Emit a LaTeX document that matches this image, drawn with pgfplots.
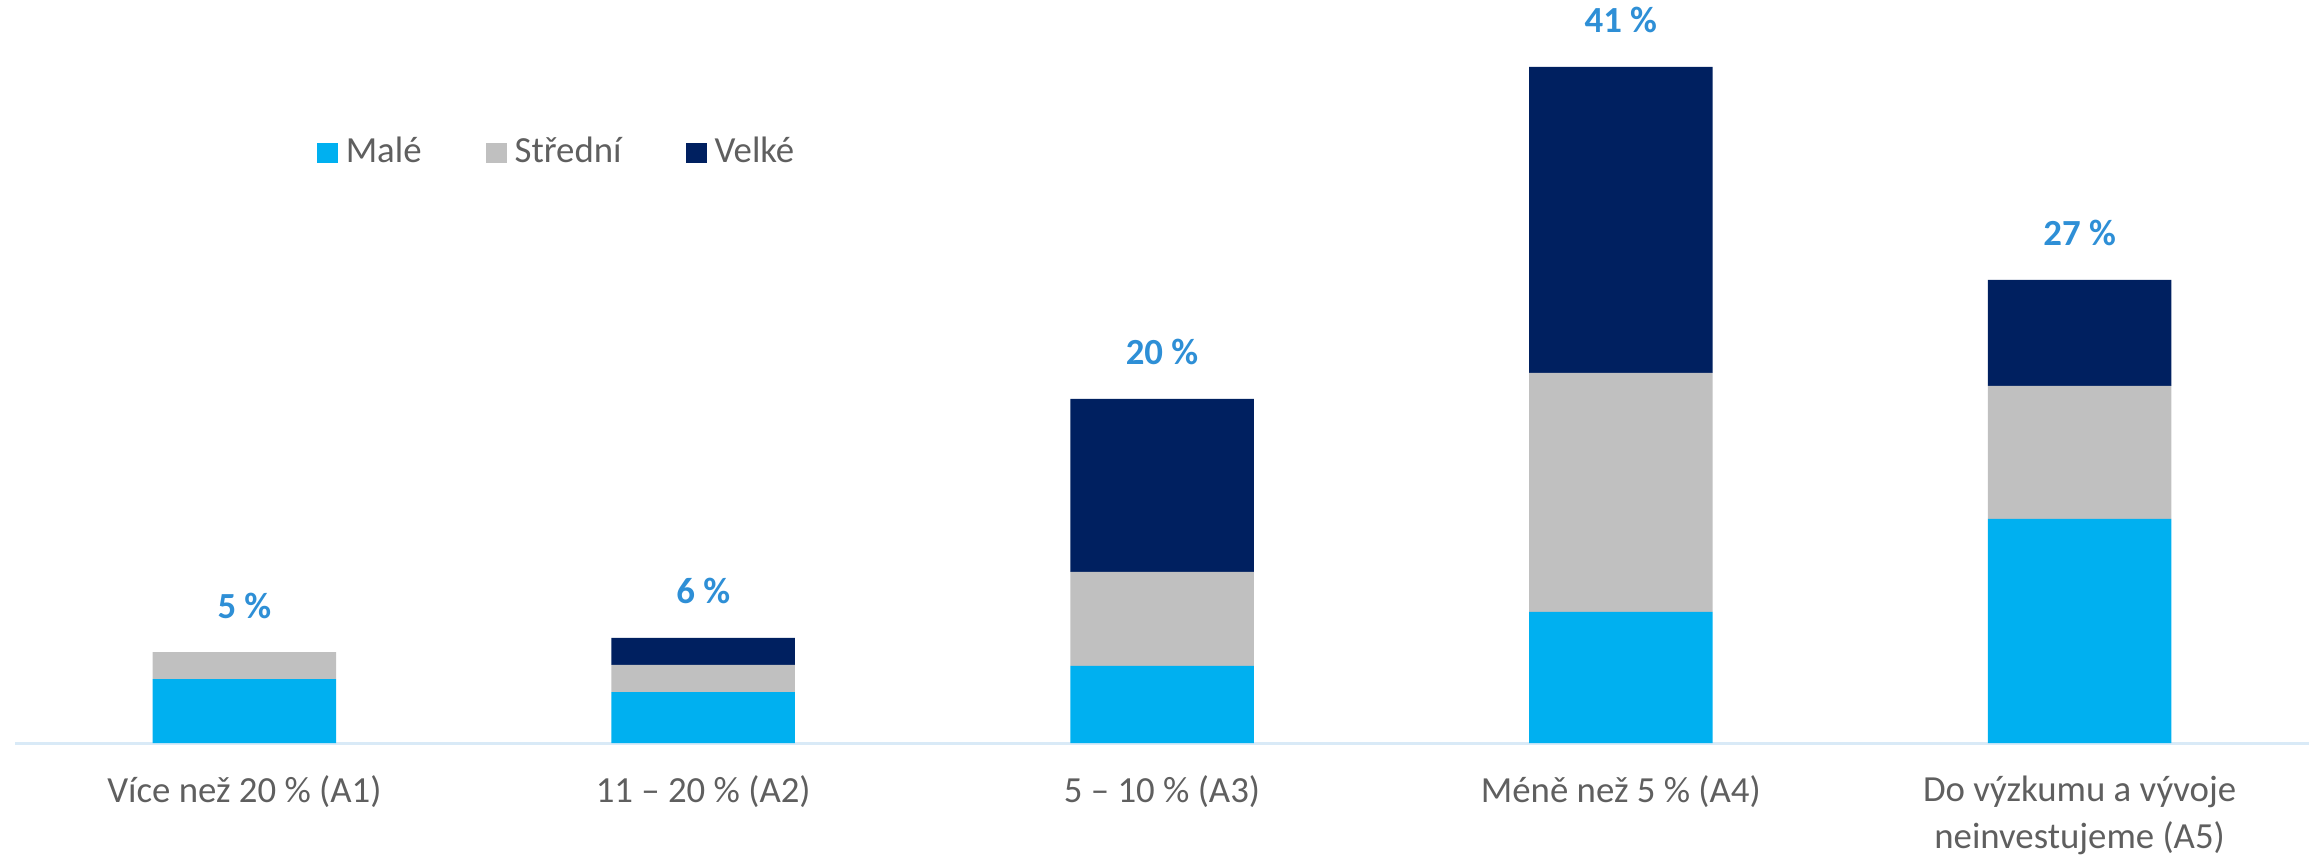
\documentclass[border=0pt]{standalone}
\usepackage{fontspec}
\setmainfont{Carlito}
\usepackage{pgfplots}
\pgfplotsset{compat=1.18}
\definecolor{male}{HTML}{00B0F0}
\definecolor{stredni}{HTML}{C0C0C0}
\definecolor{velke}{HTML}{002060}
\definecolor{lbl}{HTML}{2E8FD6}
\definecolor{txt}{HTML}{5F5F5F}
\definecolor{axln}{HTML}{D9EAF7}
\begin{document}
\begin{tikzpicture}
\useasboundingbox (-3.75pt,-29pt) rectangle (575.75pt,185.75pt);
\begin{axis}[
    at={(0,0)}, anchor=south west,
    scale only axis, width=573.5pt, height=185.75pt,
    ybar stacked, bar width=0.4,
    xmin=-0.5, xmax=4.5, ymin=0, ymax=43.7,
    axis x line=bottom, axis y line=none,
    x axis line style={draw=axln, line width=0.75pt, -},
    xtick=data, ytick=\empty, major tick length=0,
    xticklabels={V\'ice ne\v{z} 20 \% (A1), 11 -- 20 \% (A2), 5 -- 10 \% (A3),
                 M\'en\v{e} ne\v{z} 5 \% (A4), {Do výzkumu a vývoje\\neinvestujeme (A5)}},
    xticklabel style={font=\fontsize{9.2}{11.8}\selectfont, text=txt, align=center, yshift=-4.6pt},
    clip=false,
    legend columns=3,
    legend style={at={(0.1312,0.794)}, anchor=west, draw=none, fill=none,
                  inner sep=0pt, font=\fontsize{9.2}{11}\selectfont, text=txt,
                  /tikz/every even column/.append style={column sep=14pt}},
    leg/.style={legend image code/.code={\fill[##1] (0pt,-2.6pt) rectangle (5.25pt,2.6pt);}},
]
\addplot[fill=male, draw=none, leg] coordinates {(0,3.76) (1,3.0) (2,4.53) (3,7.71) (4,13.18)};
\addplot[fill=stredni, draw=none, leg] coordinates {(0,1.59) (1,1.59) (2,5.53) (3,14.06) (4,7.82)};
\addplot[fill=velke, draw=none, leg] coordinates {(0,0) (1,1.59) (2,10.18) (3,18.0) (4,6.24)};
\addplot[fill=none, draw=none, forget plot,
    nodes near coords, point meta=explicit symbolic,
    every node near coord/.append style={anchor=base, yshift=8.5pt, inner sep=0pt,
        font=\fontsize{9.2}{11}\selectfont\bfseries, text=lbl}]
    coordinates {(0,0.001) [5 \%] (1,0.001) [6 \%] (2,0.001) [20 \%] (3,0.001) [41 \%] (4,0.001) [27 \%]};
\legend{Mal\'e, St\v{r}edn\'i, Velk\'e}
\end{axis}
\end{tikzpicture}
\end{document}
